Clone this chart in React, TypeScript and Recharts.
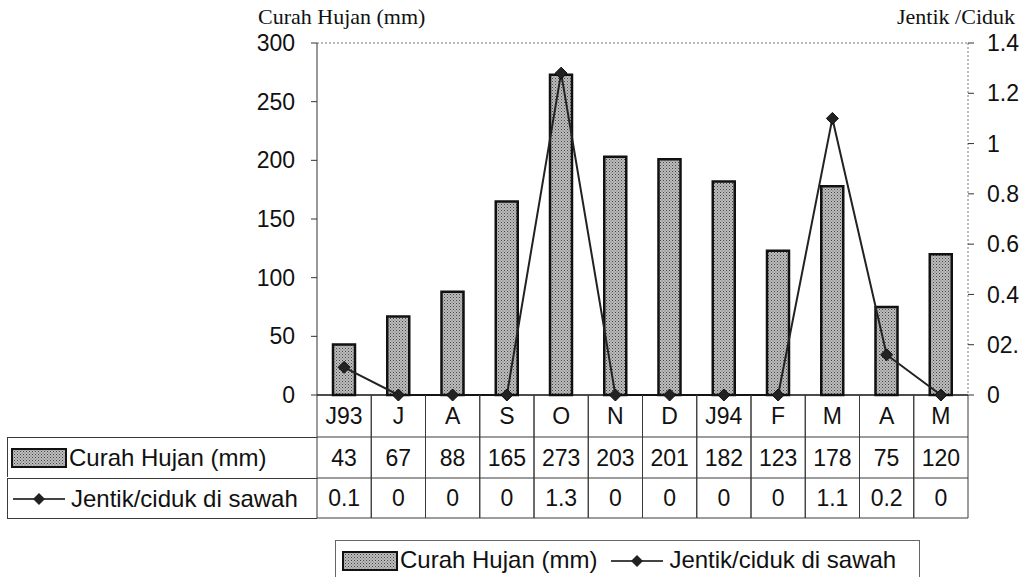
import React from "react";
import {
  Bar,
  ComposedChart,
  Line,
  ReferenceLine,
  XAxis,
  YAxis,
} from "recharts";

const months = ["J93", "J", "A", "S", "O", "N", "D", "J94", "F", "M", "A", "M"];
const rainfall = [43, 67, 88, 165, 273, 203, 201, 182, 123, 178, 75, 120];
// plotted positions; the table below shows the rounded values
const larvae = [0.11, 0, 0, 0, 1.28, 0, 0, 0, 0, 1.1, 0.16, 0];
const larvaeLabels = ["0.1", "0", "0", "0", "1.3", "0", "0", "0", "0", "1.1", "0.2", "0"];
const leftTicks = [0, 50, 100, 150, 200, 250, 300];
const rightTicks = [0, 0.2, 0.4, 0.6, 0.8, 1, 1.2, 1.4];
const rightTickLabels = ["0", "02.", "0.4", "0.6", "0.8", "1", "1.2", "1.4"];

const W = 1027;
const H = 577;
const PLOT_LEFT = 317;
const PLOT_RIGHT = 968;
const COL_W = (PLOT_RIGHT - PLOT_LEFT) / months.length;
const ROW1 = 42; // category row height
const ROW2 = 41;
const ROW3 = 40;
const SANS = "'Liberation Sans', Arial, sans-serif";
const SERIF = "'Liberation Serif', 'Times New Roman', serif";
const GRID = "#3a3a3a";

const data = months.map((m, i) => ({
  month: m,
  rain: rainfall[i],
  larvae: larvae[i],
}));

function Stipple({ id }: { id: string }) {
  return (
    <defs>
      <pattern id={id} width="3" height="3" patternUnits="userSpaceOnUse">
        <rect width="3" height="3" fill="#bdbdbd" />
        <rect x="0" y="0" width="1" height="1" fill="#444" />
        <rect x="1.5" y="1.5" width="1" height="1" fill="#666" />
      </pattern>
    </defs>
  );
}

function TableColumn(props: any) {
  const { x, y, payload } = props;
  const i = payload.index;
  const l = x - COL_W / 2;
  const r = x + COL_W / 2;
  const y1 = y + ROW1;
  const y2 = y1 + ROW2;
  const y3 = y2 + ROW3;
  return (
    <g fontFamily={SANS} fontSize={23} fill="#111">
      <line x1={l} y1={y} x2={l} y2={y3} stroke={GRID} />
      <line x1={r} y1={y} x2={r} y2={y3} stroke={GRID} />
      <line x1={l} y1={y1} x2={r} y2={y1} stroke={GRID} />
      <line x1={l} y1={y2} x2={r} y2={y2} stroke={GRID} />
      <line x1={l} y1={y3} x2={r} y2={y3} stroke={GRID} />
      <text x={x} y={y + ROW1 / 2 + 8} textAnchor="middle">
        {payload.value}
      </text>
      <text x={x} y={y1 + ROW2 / 2 + 8} textAnchor="middle">
        {rainfall[i]}
      </text>
      <text x={x} y={y2 + ROW3 / 2 + 8} textAnchor="middle">
        {larvaeLabels[i]}
      </text>
    </g>
  );
}

function Diamond(props: any) {
  const { cx, cy, index } = props;
  const s = 6;
  return (
    <path
      key={`d-${index}`}
      d={`M${cx},${cy - s} L${cx + s},${cy} L${cx},${cy + s} L${cx - s},${cy} Z`}
      fill="#222"
      stroke="#111"
    />
  );
}

function BarSwatch() {
  return (
    <svg width={56} height={20} style={{ display: "block" }}>
      <Stipple id="stipple-sw" />
      <rect x={1} y={1} width={54} height={18} fill="url(#stipple-sw)" stroke="#111" strokeWidth={2} />
    </svg>
  );
}

function LineSwatch() {
  return (
    <svg width={56} height={20} style={{ display: "block" }}>
      <line x1={2} y1={10} x2={54} y2={10} stroke="#444" strokeWidth={2} />
      <path d="M28,4 L34,10 L28,16 L22,10 Z" fill="#222" />
    </svg>
  );
}

export default function App() {
  const tableTop = 395 + ROW1;
  return (
    <div
      style={{
        position: "absolute",
        left: 0,
        top: 0,
        width: W,
        height: H,
        background: "#fff",
        overflow: "hidden",
      }}
    >
      <div
        style={{
          position: "absolute",
          left: 258,
          top: 4,
          fontFamily: SERIF,
          fontSize: 22,
          color: "#111",
        }}
      >
        Curah Hujan (mm)
      </div>
      <div
        style={{
          position: "absolute",
          right: 12,
          top: 4,
          fontFamily: SERIF,
          fontSize: 22,
          color: "#111",
        }}
      >
        Jentik /Ciduk
      </div>

      <ComposedChart
        width={W}
        height={H}
        data={data}
        margin={{ top: 43, right: 0, bottom: 58, left: 237 }}
        barCategoryGap={0}
      >
        <Stipple id="stipple" />
        <XAxis
          dataKey="month"
          xAxisId={0}
          height={124}
          tickLine={false}
          tickSize={0}
          tickMargin={0}
          axisLine={{ stroke: "#111", strokeWidth: 1.5 }}
          tick={<TableColumn />}
          interval={0}
        />
        <YAxis
          yAxisId="left"
          orientation="left"
          width={80}
          domain={[0, 300]}
          ticks={leftTicks}
          tickSize={6}
          tickMargin={16}
          axisLine={{ stroke: "#333" }}
          tickLine={{ stroke: "#333" }}
          tick={{ fill: "#111", fontSize: 23, fontFamily: SANS }}
        />
        <YAxis
          yAxisId="right"
          orientation="right"
          width={59}
          domain={[0, 1.4]}
          ticks={rightTicks}
          tickSize={6}
          tickMargin={13}
          axisLine={{ stroke: "#777", strokeDasharray: "2 2" }}
          tickLine={{ stroke: "#333" }}
          tickFormatter={(v, i) => rightTickLabels[i] ?? String(v)}
          tick={{ fill: "#111", fontSize: 23, fontFamily: SANS, textAnchor: "start" }}
        />
        <ReferenceLine
          yAxisId="left"
          y={300}
          stroke="#777"
          strokeDasharray="2 2"
        />
        <Bar
          yAxisId="left"
          dataKey="rain"
          barSize={22}
          fill="url(#stipple)"
          stroke="#111"
          strokeWidth={2.5}
          isAnimationActive={false}
        />
        <Line
          yAxisId="right"
          dataKey="larvae"
          type="linear"
          stroke="#222"
          strokeWidth={2}
          dot={Diamond}
          activeDot={false}
          isAnimationActive={false}
        />
      </ComposedChart>

      {/* row labels of the data table */}
      <div
        style={{
          position: "absolute",
          left: 7,
          top: tableTop,
          width: PLOT_LEFT - 7,
          height: ROW2 - 1,
          borderTop: `1px solid ${GRID}`,
          borderLeft: `1px solid ${GRID}`,
          display: "flex",
          alignItems: "center",
          fontFamily: SANS,
          fontSize: 24,
          color: "#111",
          gap: 2,
          paddingLeft: 3,
          boxSizing: "border-box",
        }}
      >
        <BarSwatch />
        <span>Curah Hujan (mm)</span>
      </div>
      <div
        style={{
          position: "absolute",
          left: 7,
          top: tableTop + ROW2,
          width: PLOT_LEFT - 7,
          height: ROW3 + 1,
          borderTop: `1px solid ${GRID}`,
          borderLeft: `1px solid ${GRID}`,
          borderBottom: `1px solid ${GRID}`,
          display: "flex",
          alignItems: "center",
          fontFamily: SANS,
          fontSize: 24,
          color: "#111",
          gap: 4,
          paddingLeft: 3,
          boxSizing: "border-box",
        }}
      >
        <LineSwatch />
        <span>Jentik/ciduk di sawah</span>
      </div>

      {/* legend */}
      <div
        style={{
          position: "absolute",
          left: 335,
          top: 540,
          width: 585,
          height: 44,
          border: "1px solid #666",
          display: "flex",
          alignItems: "flex-start",
          paddingTop: 5,
          paddingLeft: 6,
          boxSizing: "border-box",
          fontFamily: SANS,
          fontSize: 24,
          color: "#111",
          whiteSpace: "nowrap",
        }}
      >
        <div style={{ marginTop: 5 }}>
          <BarSwatch />
        </div>
        <span style={{ marginLeft: 2 }}>Curah Hujan (mm)</span>
        <div style={{ marginTop: 5, marginLeft: 12 }}>
          <LineSwatch />
        </div>
        <span style={{ marginLeft: 4 }}>Jentik/ciduk di sawah</span>
      </div>
    </div>
  );
}
